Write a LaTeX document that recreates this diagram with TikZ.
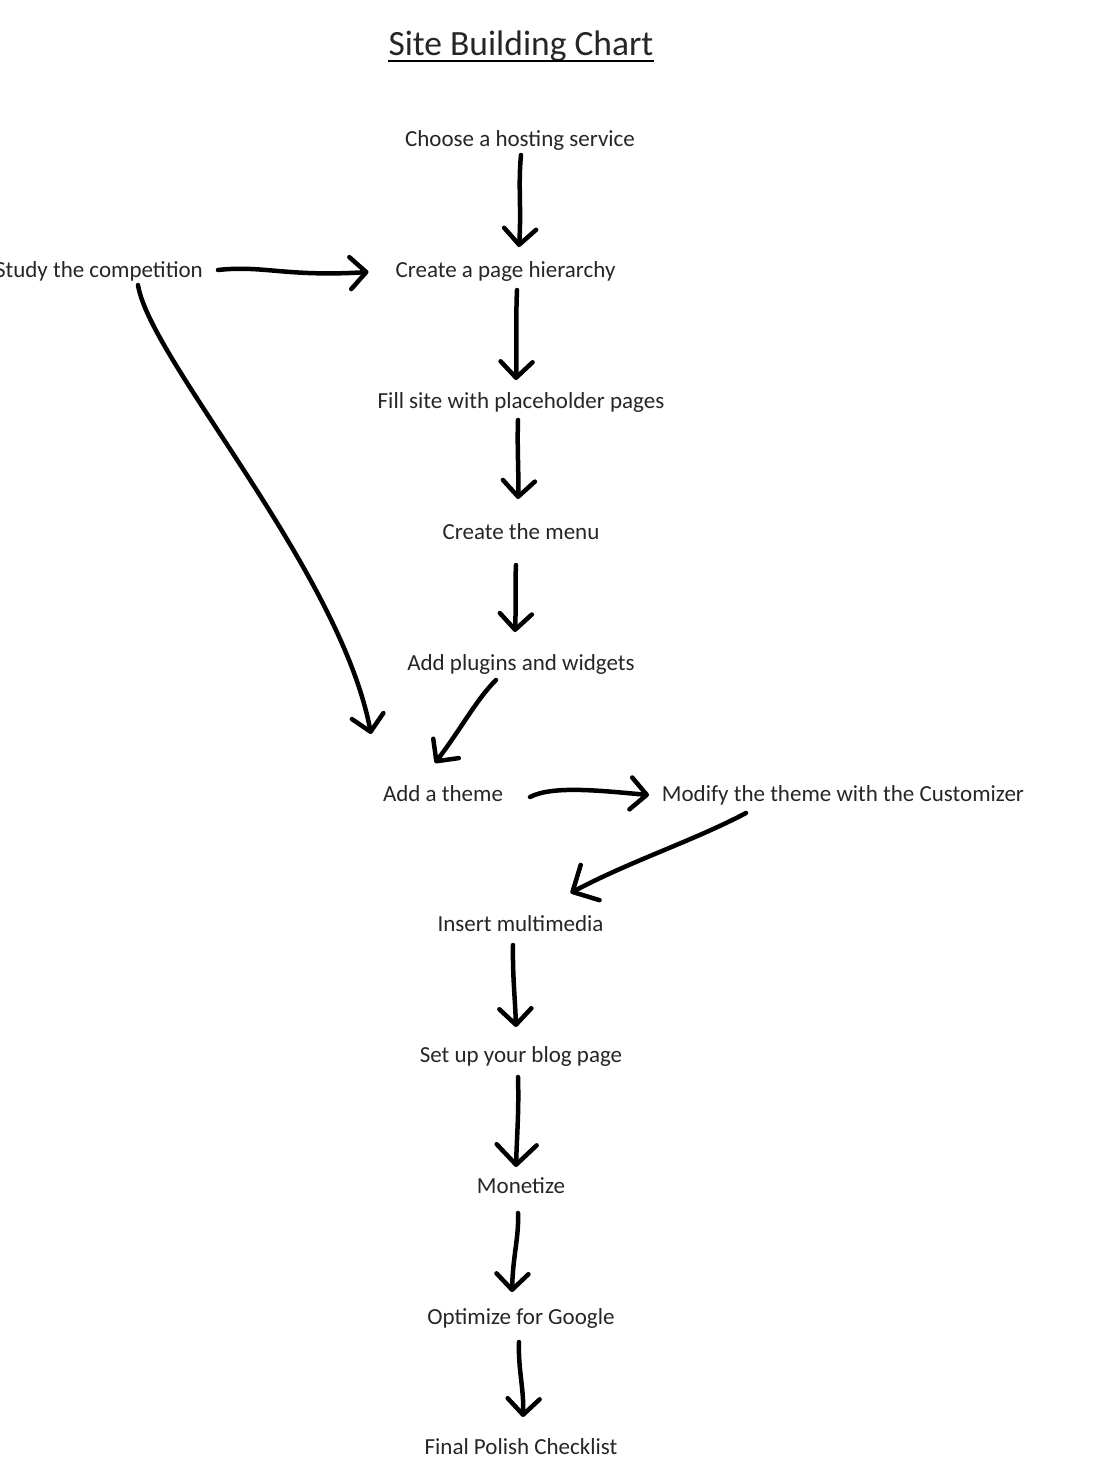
\documentclass[tikz,border=0pt]{standalone}
\usepackage{fontspec}
\setmainfont{Carlito}
\usetikzlibrary{arrows.meta,calc}
\begin{document}
\begin{tikzpicture}[x=1pt,y=-1pt,
  lbl/.style={anchor=base,inner sep=0pt,font=\fontsize{23}{28}\selectfont,text=black!85},
  hand/.style={line width=4.5pt,line cap=round,line join=round,
    -{Straight Barb[length=16pt,width=32pt,line cap=round,line join=round]}},
  bighand/.style={hand,-{Straight Barb[length=20pt,width=40pt,line cap=round,line join=round]}}]
\useasboundingbox[fill=white] (0,0) rectangle (1100,1484);
% title
\node[lbl,font=\fontsize{35.5}{40}\selectfont] (title) at (521,55) {Site Building Chart};
\draw[line width=2.2pt] ($(title.base west)+(0,6)$) -- ($(title.base east)+(0,6)$);
% nodes
\node[lbl] (choose) at (520,146) {Choose a hosting service};
\node[lbl,anchor=base east] (study) at (203,277) {Study the competition};
\node[lbl] (create) at (505.5,277) {Create a page hierarchy};
\node[lbl] (fill) at (521,408) {Fill site with placeholder pages};
\node[lbl] (menu) at (521,539) {Create the menu};
\node[lbl] (plugins) at (521,670) {Add plugins and widgets};
\node[lbl] (theme) at (443,801) {Add a theme};
\node[lbl] (modify) at (843,801) {Modify the theme with the Customizer};
\node[lbl] (insert) at (520.5,931) {Insert multimedia};
\node[lbl] (blog) at (521,1062) {Set up your blog page};
\node[lbl] (monetize) at (521,1193) {Monetize};
\node[lbl] (optimize) at (521,1324) {Optimize for Google};
\node[lbl] (final) at (521,1454) {Final Polish Checklist};
% connectors
\draw[hand] ($(choose.base)+(1,9)$) .. controls ($(choose.base)+(-2,40)$) and ($(create.base)+(16,-70)$) .. ($(create.base)+(13.5,-30)$);
\draw[hand] ($(study.base east)+(15,-7)$) .. controls ($(study.base east)+(60,-12)$) and ($(create.base)+(-220,0)$) .. ($(create.base)+(-137,-5)$);
\draw[hand] ($(study.base east)+(-65,8)$) .. controls (150,360) and (340,570) .. ($(theme.base)+(-72,-67)$);
\draw[hand] ($(create.base)+(11.5,13)$) .. controls ($(create.base)+(10,50)$) and ($(fill.base)+(-4,-60)$) .. ($(fill.base)+(-5,-28)$);
\draw[hand] ($(fill.base)+(-3,12)$) .. controls ($(fill.base)+(-4,40)$) and ($(menu.base)+(-2,-60)$) .. ($(menu.base)+(-3,-40)$);
\draw[hand] ($(menu.base)+(-5,26)$) .. controls ($(menu.base)+(-6,45)$) and ($(plugins.base)+(-5,-60)$) .. ($(plugins.base)+(-6,-38)$);
\draw[hand] ($(plugins.base)+(-25,10)$) .. controls ($(plugins.base)+(-45,30)$) and ($(theme.base)+(20,-75)$) .. ($(theme.base)+(-8,-38)$);
\draw[hand] ($(theme.base)+(87,-4)$) .. controls ($(theme.base)+(110,-16)$) and ($(modify.base)+(-240,-10)$) .. ($(modify.base)+(-194,-6)$);
\draw[bighand] ($(modify.base)+(-97,12)$) .. controls ($(modify.base)+(-150,40)$) and ($(insert.base)+(110,-70)$) .. ($(insert.base)+(50,-38)$);
\draw[hand] ($(insert.base)+(-7.5,14)$) .. controls ($(insert.base)+(-8,45)$) and ($(blog.base)+(-6,-65)$) .. ($(blog.base)+(-5,-35)$);
\draw[bighand] ($(blog.base)+(-3,15)$) .. controls ($(blog.base)+(-2,50)$) and ($(monetize.base)+(-4,-60)$) .. ($(monetize.base)+(-5,-26)$);
\draw[hand] ($(monetize.base)+(-3,20)$) .. controls ($(monetize.base)+(-2,45)$) and ($(optimize.base)+(-8,-70)$) .. ($(optimize.base)+(-9,-32)$);
\draw[hand] ($(optimize.base)+(-2,18)$) .. controls ($(optimize.base)+(-3,45)$) and ($(final.base)+(3,-65)$) .. ($(final.base)+(2,-37)$);
\end{tikzpicture}
\end{document}
